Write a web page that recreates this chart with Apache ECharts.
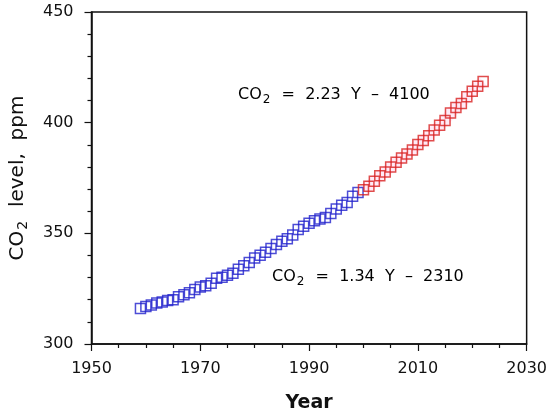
<!DOCTYPE html>
<html>
<head>
<meta charset="utf-8">
<script src="https://cdn.jsdelivr.net/npm/echarts@6/dist/echarts.min.js"></script>
<style>
  html, body { margin: 0; padding: 0; background: #fff; }
  #chart { width: 550px; height: 418px; }
</style>
</head>
<body>
<div id="chart"></div>
<script>
// annual mean CO2 (ppm)
const blueYears = [1959, 1960, 1961, 1962, 1963, 1964, 1965, 1966, 1967, 1968,
  1969, 1970, 1971, 1972, 1973, 1974, 1975, 1976, 1977, 1978, 1979, 1980, 1981,
  1982, 1983, 1984, 1985, 1986, 1987, 1988, 1989, 1990, 1991, 1992, 1993, 1994,
  1995, 1996, 1997, 1998, 1999];
const blueCO2 = [316.0, 316.9, 317.6, 318.5, 319.0, 319.6, 320.0, 321.4, 322.2, 323.1,
  324.6, 325.7, 326.3, 327.5, 329.7, 330.2, 331.1, 332.0, 333.8, 335.4, 336.8, 338.8, 340.1,
  341.5, 343.2, 344.9, 346.4, 347.6, 349.3, 351.7, 353.2, 354.5, 355.7, 356.5, 357.2, 359.0,
  361.0, 362.7, 363.9, 366.8, 368.5];
const redYears = [2000, 2001, 2002, 2003, 2004, 2005, 2006, 2007, 2008, 2009, 2010,
  2011, 2012, 2013, 2014, 2015, 2016, 2017, 2018, 2019, 2020, 2021, 2022];
const redCO2 = [369.7, 371.3, 373.5, 376.0, 377.7, 380.0, 382.1, 384.0, 385.8, 387.6, 390.1,
  391.9, 394.1, 396.7, 398.8, 401.0, 404.4, 406.8, 408.7, 411.7, 414.2, 416.5, 418.6];

const xTicks = { min: 1950, max: 2030, step: 20 };
const yTicks = { min: 300, max: 450, step: 50 };

const eqRed = ['2.23', '4100'];
const eqBlue = ['1.34', '2310'];

const FONT = 'DejaVu Sans';

function pairs(xs, ys) {
  return xs.map((x, i) => [x, ys[i]]);
}

function eqText(slope, icpt) {
  return '{a|CO}{s|2}{a|  =  ' + slope + '  Y  \u2013  ' + icpt + '}';
}
const eqRich = {
  a: { fontFamily: FONT, fontSize: 16, color: '#111' },
  s: { fontFamily: FONT, fontSize: 12, color: '#111', padding: [10, 1, 0, 1] }
};

const chart = echarts.init(document.getElementById('chart'));
chart.setOption({
  animation: false,
  grid: {
    left: 91, right: 23, top: 12, bottom: 74,
    show: true, borderColor: '#111', borderWidth: 1.5,
    backgroundColor: 'transparent'
  },
  xAxis: {
    type: 'value',
    min: xTicks.min, max: xTicks.max, interval: xTicks.step,
    name: 'Year',
    nameLocation: 'middle',
    nameGap: 50,
    nameTextStyle: { fontFamily: FONT, fontSize: 19, fontWeight: 'bold', color: '#111' },
    axisLine: { lineStyle: { color: '#111', width: 1.5 } },
    axisTick: { length: 7, lineStyle: { color: '#111', width: 1.2 } },
    minorTick: { show: true, splitNumber: 4, length: 4, lineStyle: { color: '#111', width: 1.2 } },
    splitLine: { show: false },
    axisLabel: { fontFamily: FONT, fontSize: 16, color: '#111', margin: 17, formatter: v => String(v) }
  },
  yAxis: {
    type: 'value',
    min: yTicks.min, max: yTicks.max, interval: yTicks.step,
    name: '{a|CO}{s|2}{a|  level,  ppm}',
    nameLocation: 'middle',
    nameGap: 61,
    nameTextStyle: {
      rich: {
        a: { fontFamily: FONT, fontSize: 20, color: '#111' },
        s: { fontFamily: FONT, fontSize: 14, color: '#111', padding: [11, 1, 0, 1] }
      }
    },
    axisLine: { lineStyle: { color: '#111', width: 1.5 } },
    axisTick: { length: 7, lineStyle: { color: '#111', width: 1.2 } },
    minorTick: { show: true, splitNumber: 5, length: 4, lineStyle: { color: '#111', width: 1.2 } },
    splitLine: { show: false },
    axisLabel: { fontFamily: FONT, fontSize: 16, color: '#111', margin: 18 }
  },
  series: [
    {
      type: 'scatter',
      data: pairs(blueYears, blueCO2),
      symbol: 'rect',
      symbolSize: 10,
      itemStyle: { color: 'rgba(0,0,0,0)', borderColor: '#2020cc', borderWidth: 1.5 }
    },
    {
      type: 'line',
      data: pairs(redYears, redCO2),
      symbol: 'none',
      silent: true,
      lineStyle: { color: 'rgba(255,140,210,0.18)', width: 11 },
      z: 1
    },
    {
      type: 'scatter',
      data: pairs(redYears, redCO2),
      symbol: 'rect',
      symbolSize: 10,
      itemStyle: { color: 'rgba(0,0,0,0)', borderColor: '#d82020', borderWidth: 1.5 }
    }
  ],
  graphic: [
    {
      type: 'text', left: 238, top: 87,
      style: { text: eqText(eqRed[0], eqRed[1]), rich: eqRich }
    },
    {
      type: 'text', left: 272, top: 269,
      style: { text: eqText(eqBlue[0], eqBlue[1]), rich: eqRich }
    }
  ]
});
</script>
</body>
</html>
